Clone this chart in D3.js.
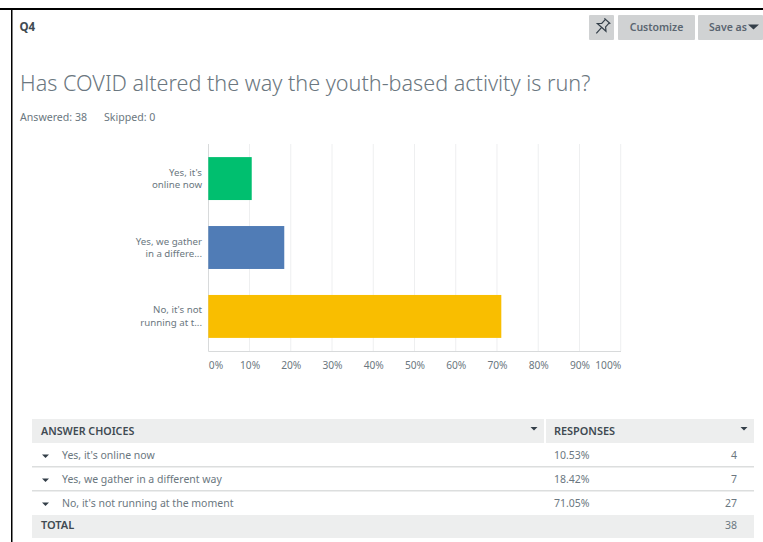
<!DOCTYPE html>
<html><head><meta charset="utf-8">
<script src="https://cdn.jsdelivr.net/npm/d3@7"></script>
<style>
html,body{margin:0;padding:0;background:#fff;overflow:hidden}
svg{display:block}
text{font-family:"Noto Sans","Open Sans",sans-serif}
</style></head><body>
<svg id="c" width="763" height="542"></svg>
<script>
const categories = ["Yes, it's online now","Yes, we gather in a different way","No, it's not running at the moment"];
const axisLabels = [["Yes, it's","online now"],["Yes, we gather","in a differe..."],["No, it's not","running at t..."]];
const percents = [10.53,18.42,71.05];
const counts = [4,7,27];
const barColors = ["#00bf6f","#507cb6","#f9be00"];
const xTicks = [0,10,20,30,40,50,60,70,80,90,100];
const total = 38;

const svg = d3.select("#c");
const txt = (x,y,s,size,fill,weight,anchor)=>svg.append("text").attr("x",x).attr("y",y).attr("font-size",size)
  .attr("fill",fill).attr("font-weight",weight||400).attr("text-anchor",anchor||"start").text(s);

// screenshot frame
svg.append("rect").attr("x",0).attr("y",8).attr("width",763).attr("height",2).attr("fill","#000");
svg.append("rect").attr("x",11).attr("y",8).attr("width",1.5).attr("height",534).attr("fill","#000");

// header
txt(19.5,31,"Q4",11.5,"#404a52",700);
const btn = (x,w)=>svg.append("rect").attr("x",x).attr("y",15).attr("width",w).attr("height",25).attr("rx",1).attr("fill","#d0d2d3");
btn(589,25);btn(618,77);btn(698,65);
txt(656.5,31,"Customize",10.5,"#5a6570",600,"middle");
txt(709,31,"Save as",10.5,"#5a6570",600);
svg.append("path").attr("d","M748 24.5h11l-5.5 5z").attr("fill","#333e48");
// pin icon
svg.append("g").attr("transform","translate(602,27) rotate(42)").attr("fill","none").attr("stroke","#333e48").attr("stroke-width",1.2)
  .call(g=>{g.append("path").attr("d","M-4 -8h8M-2.6 -8v5.5l-3.2 3h11.6l-3.2-3v-5.5z");g.append("path").attr("d","M0 .5v8");});

txt(20,91,"Has COVID altered the way the youth-based activity is run?",21.6,"#6b7780",300);
txt(20,121,"Answered: 38",10.6,"#6b7780");
txt(104,121,"Skipped: 0",10.6,"#6b7780");

// chart
const x = d3.scaleLinear().domain([0,100]).range([208.3,620.7]);
const y = d3.scaleBand().domain(categories).range([144,351]).paddingInner(.377).paddingOuter(.19);

svg.append("g").selectAll("line").data(xTicks.slice(1)).join("line")
  .attr("x1",d=>x(d)).attr("x2",d=>x(d)).attr("y1",144).attr("y2",351).attr("stroke","#eeeff0");
svg.append("line").attr("x1",208.5).attr("x2",208.5).attr("y1",144).attr("y2",351.5).attr("stroke","#d8dadb");

svg.append("g").selectAll("rect").data(categories).join("rect")
  .attr("x",x(0)).attr("y",d=>y(d)).attr("height",y.bandwidth())
  .attr("width",(d,i)=>x(percents[i])-x(0)).attr("fill",(d,i)=>barColors[i]);

const ax = svg.append("g").attr("transform","translate(0,351)")
  .call(d3.axisBottom(x).tickValues(xTicks).tickSize(0).tickPadding(11).tickFormat(d=>d+"%"));
ax.select(".domain").attr("stroke","#d8dadb").attr("d","M208.5 .5H621");
ax.selectAll("text").attr("font-size",10.2).attr("fill","#6b7780").style("font-family",'"Noto Sans",sans-serif')
  .attr("text-anchor",d=>d===0?"start":d===100?"end":"middle");

axisLabels.forEach((ls,i)=>{
  const c = y(categories[i])+y.bandwidth()/2;
  ls.forEach((l,j)=>txt(202,c-3+j*12.5,l,9.7,"#6b7780",400,"end"));
});

// table
const rowTop=[443,467,491], tx=32, tw=722;
svg.append("rect").attr("x",tx).attr("y",419).attr("width",tw).attr("height",24).attr("fill","#edeeee");
svg.append("rect").attr("x",544).attr("y",419).attr("width",2).attr("height",24).attr("fill","#fff");
svg.append("rect").attr("x",tx).attr("y",515).attr("width",tw).attr("height",23).attr("fill","#edeeee");
[467,491].forEach(v=>svg.append("rect").attr("x",tx).attr("y",v-1).attr("width",tw).attr("height",1.5).attr("fill","#dcdede"));
const tri=(cx,cy)=>svg.append("path").attr("d",`M${cx-3.5} ${cy-1.5}h7l-3.5 3.5z`).attr("fill","#333e48");
txt(41,435,"ANSWER CHOICES",10.7,"#404a52",600);
txt(554,435,"RESPONSES",10.9,"#404a52",600);
tri(534,428.5);tri(744,428.5);
categories.forEach((c,i)=>{
  const b=rowTop[i]+16;
  tri(45.5,b-3);
  txt(62,b,c,10.5,"#6b7780");
  txt(554,b,percents[i].toFixed(2)+"%",10.5,"#6b7780");
  txt(737,b,counts[i],10.5,"#6b7780",400,"end");
});
txt(41,529,"TOTAL",11,"#404a52",600);
txt(737,529,total,10.5,"#6b7780",400,"end");
</script></body></html>
